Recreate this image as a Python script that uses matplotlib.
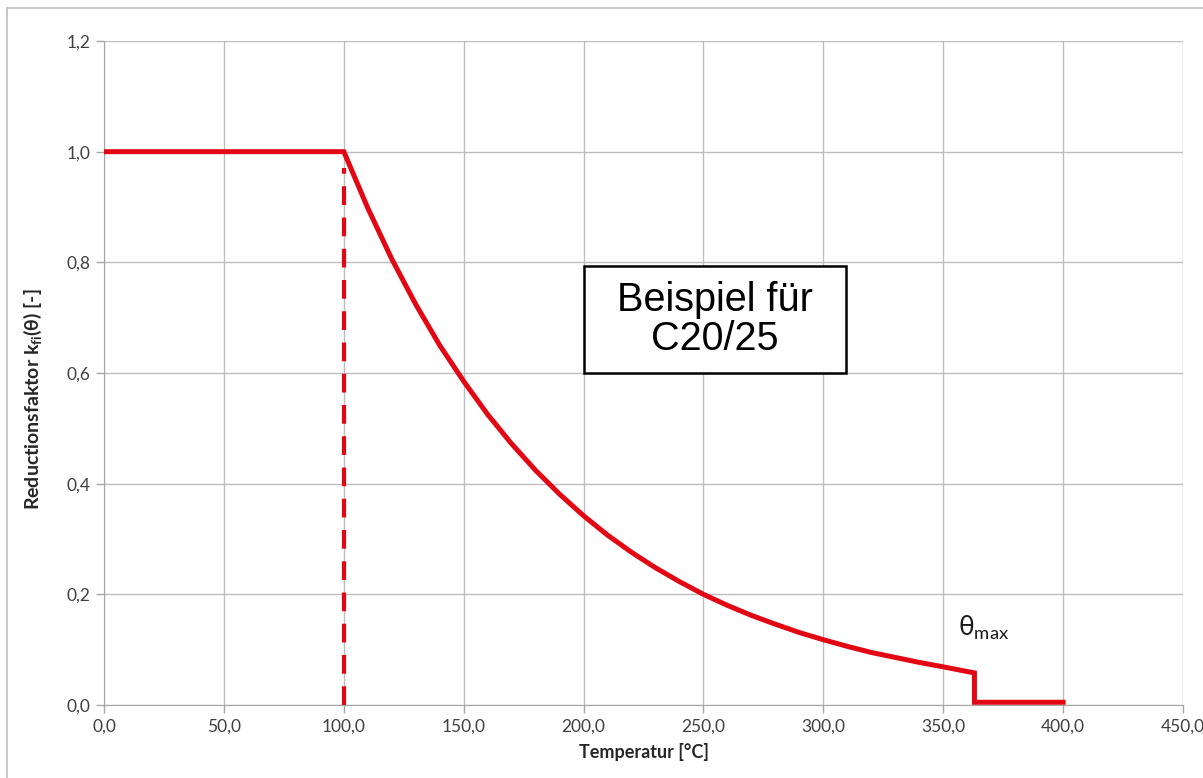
import matplotlib.pyplot as plt
from matplotlib.lines import Line2D
from matplotlib.patches import Rectangle
from matplotlib.ticker import FuncFormatter

# Reduktionsfaktor ueber Temperatur (Beispiel C20/25)
temp = [0, 100, 110, 120, 130, 140, 150, 160, 170, 180, 190, 200, 210, 220,
        230, 240, 250, 260, 270, 280, 290, 300, 310, 320, 330, 340, 350, 363,
        363, 400]
kfi = [1.0, 1.0, 0.898, 0.806, 0.724, 0.650, 0.585, 0.525, 0.472, 0.424,
       0.381, 0.342, 0.307, 0.276, 0.248, 0.223, 0.200, 0.180, 0.162, 0.146,
       0.131, 0.118, 0.106, 0.095, 0.086, 0.077, 0.069, 0.058, 0.005, 0.005]

# gestrichelte Linie bei 100 °C
dash_x = [100, 100]
dash_y = [0.0, 0.97]

plt.rcParams['font.family'] = ['Lato', 'DejaVu Sans']
plt.rcParams['mathtext.fontset'] = 'custom'
plt.rcParams['mathtext.rm'] = 'Lato'
plt.rcParams['mathtext.it'] = 'Lato'
plt.rcParams['mathtext.bf'] = 'Lato:bold'

fig = plt.figure(figsize=(12.03, 7.78), dpi=100)
ax = fig.add_axes([0.0865, 0.0938, 0.8969, 0.8535])

red = '#e30613'
ax.plot(temp, kfi, color=red, lw=3.6, solid_joinstyle='miter', zorder=4)
ax.plot(dash_x, dash_y, color=red, lw=3.0, dashes=(4.5, 3), zorder=3)

ax.set_xlim(0, 450)
ax.set_ylim(0, 1.2)
ax.set_xticks(range(0, 451, 50))
ax.set_yticks([0, 0.2, 0.4, 0.6, 0.8, 1.0, 1.2])
ax.xaxis.set_major_formatter(FuncFormatter(lambda v, p: f'{v:.1f}'.replace('.', ',')))
ax.yaxis.set_major_formatter(FuncFormatter(lambda v, p: f'{v:.1f}'.replace('.', ',')))

ax.grid(True, color='#bdbdbd', lw=1.0)
ax.set_axisbelow(True)
for s in ['top', 'right']:
    ax.spines[s].set_visible(False)
for s in ['left', 'bottom']:
    ax.spines[s].set_color('#a6a6a6')
ax.tick_params(colors='#a6a6a6', labelcolor='#404040', labelsize=12.5,
               length=6, width=1)
ax.tick_params(axis='x', pad=4)

ax.set_xlabel('Temperatur [°C]', fontsize=13, fontweight='bold',
              color='#262626', labelpad=6)
ax.set_ylabel(r'Reductionsfaktor k$_{\mathbf{fi}}$(θ) [-]', fontsize=14,
              fontweight='bold', color='#262626')
ax.yaxis.set_label_coords(-0.056, 0.46)

# Textkasten
ax.add_patch(Rectangle((200, 0.6), 109.5, 0.194, facecolor='white',
                       edgecolor='black', lw=1.8, zorder=5))
ax.text(254.7, 0.697, 'Beispiel für\nC20/25', family='Liberation Sans',
        fontsize=28.5, ha='center', va='center', linespacing=1.05, zorder=6)

ax.text(356, 0.14, r'$\mathrm{θ}_{\mathrm{max}}$', fontsize=19, ha='left',
        va='center', color='#1a1a1a')

# Rahmen des Diagrammbereichs
fig.add_artist(Line2D([7 / 1203, 7 / 1203], [0, 1 - 8 / 778],
                      transform=fig.transFigure, color='#bfbfbf', lw=1.2))
fig.add_artist(Line2D([7 / 1203, 1], [1 - 8 / 778, 1 - 8 / 778],
                      transform=fig.transFigure, color='#bfbfbf', lw=1.2))

fig.savefig('out.png', dpi=100)
